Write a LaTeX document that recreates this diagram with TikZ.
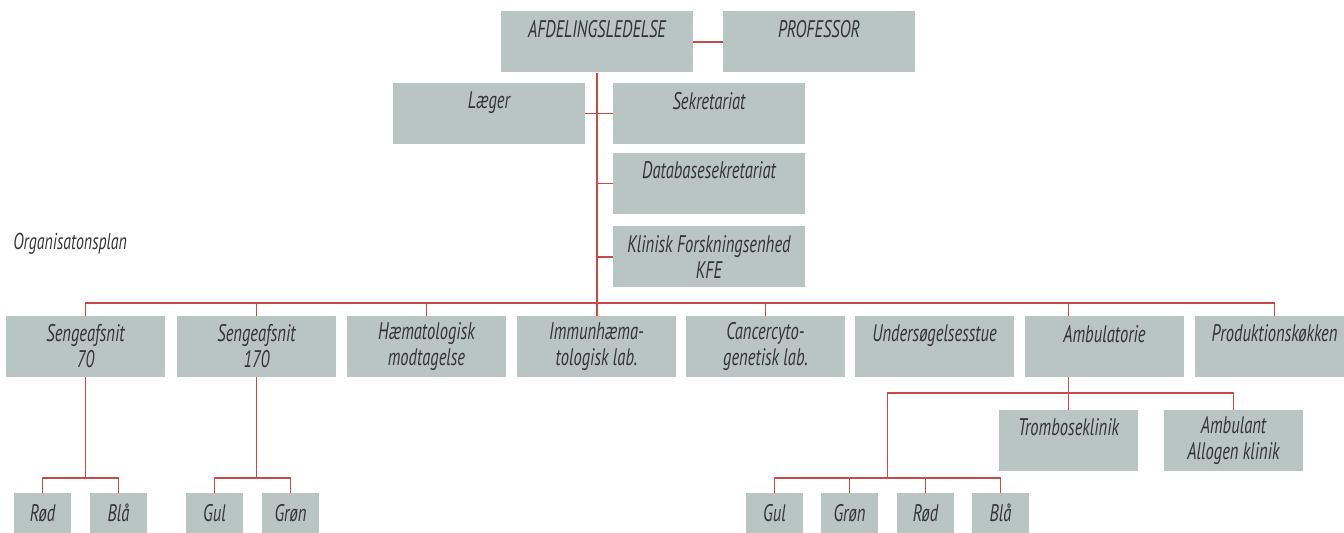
\documentclass[tikz,border=0pt]{standalone}
\usepackage{fontspec}
\setmainfont{PT Sans}[FakeStretch=0.69]
\usepackage{tikz}

\definecolor{boxgray}{RGB}{184,197,194}
\definecolor{linered}{RGB}{200,72,76}
\definecolor{txtgray}{RGB}{52,52,52}

\begin{document}
\begin{tikzpicture}[x=0.5pt, y=-0.5pt,
    unit/.style={fill=boxgray, text=txtgray, inner sep=0pt, align=center, minimum height=30.5pt, font=\fontsize{12}{13}\selectfont\itshape},
    head/.style={unit, minimum width=96pt},
    dept/.style={unit, minimum width=79.5pt},
    clinic/.style={unit, minimum width=69.5pt},
    team/.style={unit, minimum width=28.5pt, minimum height=20pt},
    link/.style={draw=linered, line width=0.85pt}
]
\useasboundingbox (0,0) rectangle (1344,533);

% Ledelse
\node[head] (afd) at (597,42) {AFDELINGSLEDELSE\\~};
\node[head] (prof) at (819,42) {PROFESSOR\\~};
\node[head] (laeger) at (489,113.5) {Læger\\~};
\node[head] (sekr) at (709,113.5) {Sekretariat\\~};
\node[head] (dbsekr) at (709,183.5) {Databasesekretariat\\~};
\node[head] (kfe) at (709,257) {Klinisk Forskningsenhed\\KFE};

\node[text=txtgray, anchor=base west, inner sep=0pt, font=\fontsize{11.5}{12}\selectfont\itshape] (plan) at (13,250) {Organisatonsplan};

% Afsnit
\node[dept] (seng70) at (85.5,346.5) {Sengeafsnit\\70};
\node[dept] (seng170) at (256.5,346.5) {Sengeafsnit\\170};
\node[dept] (haem) at (426.5,346.5) {Hæmatologisk\\modtagelse};
\node[dept] (immun) at (596.5,346.5) {Immunhæma-\\tologisk lab.};
\node[dept] (cancer) at (765.5,346.5) {Cancercyto-\\genetisk lab.};
\node[dept] (unders) at (934.5,346.5) {Undersøgelsesstue\\~};
\node[dept] (ambul) at (1104.5,346.5) {Ambulatorie\\~};
\node[dept] (prod) at (1274.5,346.5) {Produktionskøkken\\~};

% Klinikker
\node[clinic] (trombo) at (1068.5,440.5) {Tromboseklinik\\~};
\node[clinic] (ambulant) at (1233.5,440.5) {Ambulant\\Allogen klinik};

% Teams
\node[team] (roed1) at (42.5,513) {Rød};
\node[team] (blaa1) at (118.5,513) {Blå};
\node[team] (gul1) at (214.5,513) {Gul};
\node[team] (groen1) at (290.5,513) {Grøn};
\node[team] (gul2) at (774.5,513) {Gul};
\node[team] (groen2) at (849.5,513) {Grøn};
\node[team] (roed2) at (925.5,513) {Rød};
\node[team] (blaa2) at (1000.5,513) {Blå};

% Lines
\coordinate (busl) at (0,303);
\coordinate (subl) at (0,393);
\coordinate (teaml) at (0,478);
\coordinate (ambsplit) at (887.5,478);

\draw[link] (afd) -- (prof);
\draw[link] (laeger) -- (sekr);
\draw[link] (afd.south) -- (afd.south |- immun.north);
\draw[link] (dbsekr.west -| afd.south) -- (dbsekr.west);
\draw[link] (kfe.west -| afd.south) -- (kfe.west);

\draw[link] (seng70.north) -- (seng70.north |- busl) -- (prod.north |- busl) -- (prod.north);
\foreach \d in {seng170,haem,cancer}
    \draw[link] (\d.north) -- (\d.north |- busl);
\draw[link] (trombo.north |- ambul.north) -- (trombo.north |- busl);

\draw[link] (trombo.north |- ambul.south) -- (trombo.north);
\draw[link] (ambsplit) |- (ambulant.north |- subl) -- (ambulant.north);
\draw[link] (gul2.north) |- (blaa2.north |- teaml) -- (blaa2.north);
\foreach \d in {groen2,roed2}
    \draw[link] (\d.north) -- (\d.north |- teaml);

\draw[link] (seng70.south) -- (seng70.south |- teaml);
\draw[link] (roed1.north) |- (blaa1.north |- teaml) -- (blaa1.north);
\draw[link] (seng170.south) -- (seng170.south |- teaml);
\draw[link] (gul1.north) |- (groen1.north |- teaml) -- (groen1.north);

\end{tikzpicture}
\end{document}
